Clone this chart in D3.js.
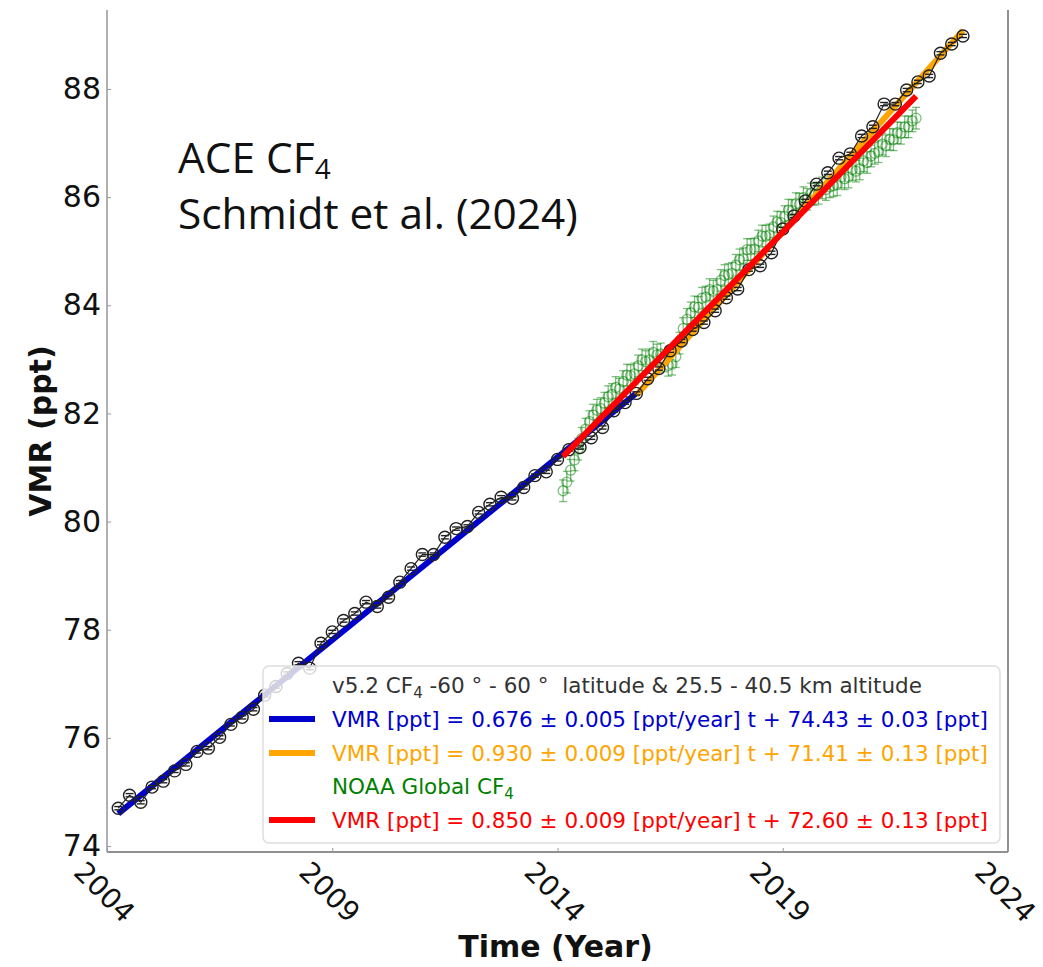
<!DOCTYPE html>
<html>
<head>
<meta charset="utf-8">
<script src="https://cdn.jsdelivr.net/npm/d3@7"></script>
<style>
  body { margin: 0; background: #fff; }
  svg { display: block; font-family: "DejaVu Sans", sans-serif; }
</style>
</head>
<body>
<div id="chart"></div>
<script>
// ACE-FTS CF4, quarterly means
const aceYears = [
  2004.25, 2004.5, 2004.75, 2005.0, 2005.25, 2005.5, 2005.75, 2006.0, 2006.25, 2006.5,
  2006.75, 2007.0, 2007.25, 2007.5, 2007.75, 2008.0, 2008.25, 2008.5, 2008.75, 2009.0,
  2009.25, 2009.5, 2009.75, 2010.0, 2010.25, 2010.5, 2010.75, 2011.0, 2011.25, 2011.5,
  2011.75, 2012.0, 2012.25, 2012.5, 2012.75, 2013.0, 2013.25, 2013.5, 2013.75, 2014.0,
  2014.25, 2014.5, 2014.75, 2015.0, 2015.25, 2015.5, 2015.75, 2016.0, 2016.25, 2016.5,
  2016.75, 2017.0, 2017.25, 2017.5, 2017.75, 2018.0, 2018.25, 2018.5, 2018.75, 2019.0,
  2019.25, 2019.5, 2019.75, 2020.0, 2020.25, 2020.5, 2020.75, 2021.0, 2021.25, 2021.5,
  2021.75, 2022.0, 2022.25, 2022.5, 2022.75, 2023.0
];
const aceVmr = [
  74.70, 74.94, 74.81, 75.09, 75.20, 75.39, 75.51, 75.75, 75.81, 76.01,
  76.25, 76.38, 76.53, 76.79, 76.95, 77.19, 77.38, 77.29, 77.75, 77.96,
  78.17, 78.30, 78.51, 78.43, 78.60, 78.88, 79.13, 79.39, 79.39, 79.71,
  79.87, 79.91, 80.17, 80.32, 80.45, 80.43, 80.63, 80.85, 80.92, 81.15,
  81.33, 81.37, 81.55, 81.74, 82.05, 82.20, 82.37, 82.64, 82.83, 83.16,
  83.34, 83.55, 83.68, 83.90, 84.14, 84.30, 84.66, 84.73, 84.97, 85.41,
  85.65, 85.93, 86.24, 86.45, 86.72, 86.80, 87.13, 87.30, 87.72, 87.72,
  87.98, 88.13, 88.24, 88.66, 88.83, 88.98
];
const aceErr = 0.03;

// NOAA global monthly means, one row per year (Jan..Dec)
const noaaYears = [2014, 2015, 2016, 2017, 2018, 2019, 2020, 2021];
const noaaVmr = [
  [null, 80.57, 80.73, 80.95, 81.14, 81.34, 81.54, 81.71, 81.85, 81.97, 82.06, 82.09],
  [82.19, 82.31, 82.35, 82.48, 82.45, 82.59, 82.71, 82.70, 82.73, 82.88, 82.99, 82.96],
  [82.99, 83.13, 83.08, 83.10, 82.97, 82.89, 82.91, 83.05, 83.30, 83.57, 83.74, 83.86],
  [83.97, 83.96, 84.13, 84.15, 84.29, 84.26, 84.29, 84.46, 84.55, 84.57, 84.59, 84.74],
  [84.84, 84.86, 85.03, 85.03, 85.04, 85.19, 85.28, 85.28, 85.30, 85.45, 85.54, 85.53],
  [85.64, 85.76, 85.75, 85.88, 85.87, 85.99, 85.96, 86.06, 86.05, 86.07, 86.17, 86.14],
  [86.19, 86.21, 86.23, 86.37, 86.34, 86.37, 86.51, 86.48, 86.52, 86.67, 86.64, 86.76],
  [86.81, 86.84, 86.98, 86.95, 87.07, 87.06, 87.19, 87.18, 87.30, 87.30, 87.41, 87.46]
];
const noaaErr = 0.2;

// linear fits, VMR = slope * (year - 2004) + intercept
const fitSlope = [0.676, 0.930, 0.850];
const fitIntercept = [74.43, 71.41, 72.60];
const fitRange = [[2004.25, 2015.75], [2015.75, 2023.0], [2014.125, 2021.96]];
const fitColors = ['mediumblue', 'orange', 'red'];

const xTicks = [2004, 2009, 2014, 2019, 2024];
const yTicks = [74, 76, 78, 80, 82, 84, 86, 88];

const legendTexts = [
  'v5.2 CF₄ -60 ° - 60 °  latitude & 25.5 - 40.5 km altitude',
  'VMR [ppt] = 0.676 ± 0.005 [ppt/year] t + 74.43 ± 0.03 [ppt]',
  'VMR [ppt] = 0.930 ± 0.009 [ppt/year] t + 71.41 ± 0.13 [ppt]',
  'NOAA Global CF₄',
  'VMR [ppt] = 0.850 ± 0.009 [ppt/year] t + 72.60 ± 0.13 [ppt]'
];
const legendColors = ['#333', 'mediumblue', 'orange', 'green', 'red'];
const legendHandles = [null, 'mediumblue', 'orange', null, 'red'];

const noteLines = ['ACE CF₄', 'Schmidt et al. (2024)'];

const W = 1043, H = 967;
const x = d3.scaleLinear().domain([2004, 2024]).range([107, 1008]);
const y = d3.scaleLinear().domain([73.89, 89.46]).range([852, 10]);

const svg = d3.select('#chart').append('svg')
  .attr('width', W)
  .attr('height', H);

// text with a subscript 4 (baseline-shift keeps the rest on the baseline)
const writeSub = (sel, str, size, scale = 0.7, shift = 0.22) => {
  const parts = str.split('₄');
  parts.forEach((p, i) => {
    if (p.length) sel.append('tspan').attr('xml:space', 'preserve').text(p);
    if (i < parts.length - 1) {
      sel.append('tspan')
        .attr('font-size', size * scale)
        .attr('baseline-shift', -size * shift)
        .text('4');
    }
  });
};

// frame
const [x0, x1] = x.range();
const [yb, yt] = y.range();
svg.append('line').attr('x1', x0).attr('x2', x0).attr('y1', yt).attr('y2', yb)
  .attr('stroke', '#b0b0b0').attr('stroke-width', 2);
svg.append('line').attr('x1', x1).attr('x2', x1).attr('y1', yt).attr('y2', yb)
  .attr('stroke', '#909090').attr('stroke-width', 2);
svg.append('line').attr('x1', x0).attr('x2', x1).attr('y1', yb).attr('y2', yb)
  .attr('stroke', '#909090').attr('stroke-width', 2);

// axes
svg.append('g')
  .attr('transform', `translate(${x0},0)`)
  .call(d3.axisLeft(y).tickValues(yTicks).tickSize(-4).tickPadding(6).tickFormat(d3.format('d')))
  .call(g => g.select('.domain').remove())
  .call(g => g.selectAll('line').attr('stroke', '#999'))
  .call(g => g.selectAll('text').attr('font-size', 30).attr('fill', '#111')
    .attr('font-family', '"DejaVu Sans", sans-serif'));

svg.append('g')
  .attr('transform', `translate(0,${yb})`)
  .call(d3.axisBottom(x).tickValues(xTicks).tickSize(-4).tickFormat(d3.format('d')))
  .call(g => g.select('.domain').remove())
  .call(g => g.selectAll('line').attr('stroke', '#999'))
  .call(g => g.selectAll('text')
    .attr('font-size', 28).attr('fill', '#111')
    .attr('font-family', '"DejaVu Sans", sans-serif')
    .attr('text-anchor', 'middle')
    .attr('y', 0).attr('dy', '0.35em')
    .attr('transform', 'translate(-3,40) rotate(45)'));

svg.append('text')
  .attr('x', (x0 + x1) / 2 - 2).attr('y', 957)
  .attr('text-anchor', 'middle')
  .attr('font-size', 30).attr('font-weight', 'bold').attr('fill', '#111')
  .text('Time (Year)');

svg.append('text')
  .attr('transform', `translate(51,${(yt + yb) / 2}) rotate(-90)`)
  .attr('text-anchor', 'middle')
  .attr('font-size', 30).attr('font-weight', 'bold').attr('fill', '#111')
  .text('VMR (ppt)');

// NOAA points
const noaa = [];
noaaYears.forEach((yr, i) => {
  noaaVmr[i].forEach((v, m) => {
    if (v !== null) noaa.push({ t: yr + (m + 0.5) / 12, v });
  });
});

const gN = svg.append('g').attr('stroke', 'green').attr('stroke-opacity', 0.5)
  .attr('fill', 'none').attr('stroke-width', 1.3);
noaa.forEach(d => {
  const cx = x(d.t);
  gN.append('line').attr('x1', cx).attr('x2', cx)
    .attr('y1', y(d.v - noaaErr)).attr('y2', y(d.v + noaaErr));
  gN.append('line').attr('x1', cx - 4).attr('x2', cx + 4)
    .attr('y1', y(d.v - noaaErr)).attr('y2', y(d.v - noaaErr));
  gN.append('line').attr('x1', cx - 4).attr('x2', cx + 4)
    .attr('y1', y(d.v + noaaErr)).attr('y2', y(d.v + noaaErr));
  gN.append('circle').attr('cx', cx).attr('cy', y(d.v)).attr('r', 5);
});

// fit lines
const fitLine = (k) => fitRange[k].map(t => [t, fitSlope[k] * (t - 2004) + fitIntercept[k]]);
const line = d3.line().x(d => x(d[0])).y(d => y(d[1]));

const drawFit = (k) => {
  svg.append('path')
    .datum(fitLine(k))
    .attr('d', line)
    .attr('fill', 'none')
    .attr('stroke', fitColors[k])
    .attr('stroke-width', 6);
};
drawFit(0);
drawFit(1);

// ACE points
const ace = aceYears.map((t, i) => [t, aceVmr[i]]);
svg.append('path')
  .datum(ace)
  .attr('d', line)
  .attr('fill', 'none')
  .attr('stroke', '#222')
  .attr('stroke-width', 1.2);

const gA = svg.append('g').attr('stroke', '#222').attr('fill', 'none').attr('stroke-width', 1.4);
ace.forEach(d => {
  const cx = x(d[0]);
  gA.append('line').attr('x1', cx - 4).attr('x2', cx + 4)
    .attr('y1', y(d[1] - aceErr)).attr('y2', y(d[1] - aceErr));
  gA.append('line').attr('x1', cx - 4).attr('x2', cx + 4)
    .attr('y1', y(d[1] + aceErr)).attr('y2', y(d[1] + aceErr));
  gA.append('circle').attr('cx', cx).attr('cy', y(d[1])).attr('r', 6);
});

drawFit(2);

// legend
const lg = svg.append('g');
lg.append('rect')
  .attr('x', 263).attr('y', 666).attr('width', 737).attr('height', 177)
  .attr('rx', 6)
  .attr('fill', '#fff').attr('fill-opacity', 0.8)
  .attr('stroke', '#ddd').attr('stroke-width', 1.5);

const rowY = [685, 719, 753, 786, 820];
const legendSize = 21.5;
legendTexts.forEach((txt, i) => {
  if (legendHandles[i]) {
    lg.append('line')
      .attr('x1', 269).attr('x2', 315)
      .attr('y1', rowY[i]).attr('y2', rowY[i])
      .attr('stroke', legendHandles[i]).attr('stroke-width', 6);
  }
  const t = lg.append('text')
    .attr('x', 332).attr('y', rowY[i]).attr('dy', '0.35em')
    .attr('font-size', legendSize).attr('fill', legendColors[i]);
  writeSub(t, txt, legendSize);
});

// annotation: one text block, two lines
const noteFont = '"Open Sans", Lato, sans-serif';
const probe = svg.append('text')
  .attr('font-family', noteFont).attr('font-size', 40)
  .text(noteLines[1]);
const noteSize = 40 * 400 / probe.node().getComputedTextLength();
probe.remove();

const note = svg.append('text')
  .attr('font-family', noteFont)
  .attr('font-size', noteSize).attr('fill', '#111');
const l1 = note.append('tspan').attr('x', 178).attr('y', 173);
writeSub(l1, noteLines[0], noteSize, 0.66, 0.15);
note.append('tspan').attr('x', 178).attr('y', 229).text(noteLines[1]);
</script>
</body>
</html>
